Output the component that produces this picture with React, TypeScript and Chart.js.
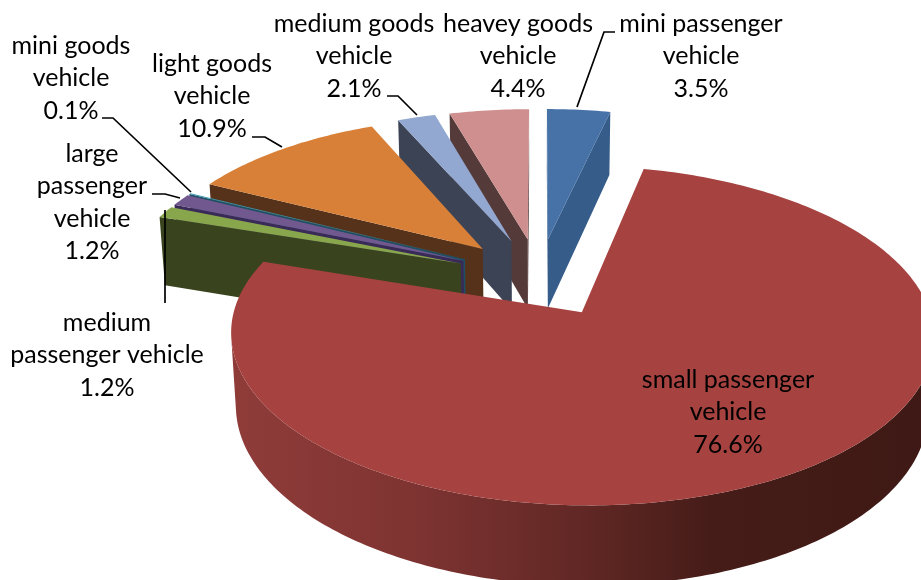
import React, { useEffect, useRef } from "react";
import { Chart, registerables } from "chart.js";

Chart.register(...registerables);

// Share of vehicles by class, clockwise from twelve o'clock.
const categories = [
  "mini passenger vehicle",
  "small passenger vehicle",
  "medium passenger vehicle",
  "large passenger vehicle",
  "mini goods vehicle",
  "light goods vehicle",
  "medium goods vehicle",
  "heavey goods vehicle",
];
const shares = [3.5, 76.6, 1.2, 1.2, 0.1, 10.9, 2.1, 4.4];

const topColors = ["#4672a8", "#a64340", "#88a64c", "#71588f", "#3c9ab4", "#d88038", "#92a8d0", "#cf8f8f"];
const wallColors = ["#365c8a", "#8a3835", "#39441e", "#3a2a58", "#1f4f63", "#56321a", "#3b4355", "#553a3a"];
const rimColors = ["#3a6193", "#8a3835", "#5f7a33", "#4d3b6a", "#28687c", "#8f5526", "#5f7193", "#8a5f5f"];

// Paint order: slices furthest from the viewer go first.
const paintOrder = [0, 7, 6, 5, 4, 3, 2, 1];

// Line breaks and anchor of each data label: [centre x, first line y].
const labelLines = [
  ["mini passenger", "vehicle"],
  ["small passenger", "vehicle"],
  ["medium", "passenger vehicle"],
  ["large", "passenger", "vehicle"],
  ["mini goods", "vehicle"],
  ["light goods", "vehicle"],
  ["medium goods", "vehicle"],
  ["heavey goods", "vehicle"],
];
const labelAnchors = [
  [701, 24],
  [728, 380],
  [107, 323],
  [92, 154],
  [71, 46],
  [212, 64],
  [354, 24],
  [518, 24],
];
const leaderLines = [
  [[615, 32], [604, 32], [577, 107]],
  [],
  [[165, 210], [165, 303]],
  [[152, 194], [165, 194], [180, 198]],
  [[102, 118], [113, 118], [191, 192]],
  [[252, 137], [265, 137], [282, 147]],
  [[387, 96], [398, 96], [417, 115]],
  [],
];

const LINE_HEIGHT = 32.3;
const LABEL_FONT = '25px Lato, "Open Sans", sans-serif';
const EXPLODE_OFFSET = 64.4;

// Camera used to tilt the flat pie: a homography on plane coordinates in radius units.
const CAM = { cx: 539, cy: 277, ax: 338, by: 157, persp: 0.134, depth: 72, sag: 0.015 };

type Pt = [number, number];

function project(x: number, y: number, z: number): Pt {
  const w = 1 - CAM.persp * y + CAM.sag * z;
  return [CAM.cx + (CAM.ax * x) / w, CAM.cy + (CAM.by * y + CAM.depth * z) / w];
}

function fillPoly(ctx: CanvasRenderingContext2D, pts: Pt[], fill: string | CanvasGradient) {
  ctx.beginPath();
  pts.forEach((p, i) => (i ? ctx.lineTo(p[0], p[1]) : ctx.moveTo(p[0], p[1])));
  ctx.closePath();
  ctx.fillStyle = fill;
  ctx.fill();
}

function cross(a: Pt, b: Pt, c: Pt) {
  return (b[0] - a[0]) * (c[1] - a[1]) - (b[1] - a[1]) * (c[0] - a[0]);
}

// A wall below edge a-b faces the viewer when its winding opposes the top face.
function wallFaces(a: [number, number], b: [number, number]) {
  const at = project(a[0], a[1], 0);
  const bt = project(b[0], b[1], 0);
  const bb = project(b[0], b[1], 1);
  return cross(at, bt, bb) < 0;
}

function drawSlice(ctx: CanvasRenderingContext2D, arc: any, index: number) {
  const { startAngle, endAngle, outerRadius } = arc.getProps(["startAngle", "endAngle", "outerRadius"], true);
  const mid = (startAngle + endAngle) / 2;
  const e = arc.options.offset / outerRadius;
  const ox = Math.cos(mid) * e;
  const oy = Math.sin(mid) * e;
  const steps = Math.max(4, Math.ceil((endAngle - startAngle) * 60));
  const rim: [number, number][] = [];
  for (let i = 0; i <= steps; i++) {
    const t = startAngle + ((endAngle - startAngle) * i) / steps;
    rim.push([ox + Math.cos(t), oy + Math.sin(t)]);
  }
  const apex: [number, number] = [ox, oy];

  // Curved outer wall, one polygon for each run of visible steps.
  let run: [number, number][] = [];
  const flush = () => {
    if (run.length > 1) {
      const pts: Pt[] = [
        ...run.map((p) => project(p[0], p[1], 0)),
        ...[...run].reverse().map((p) => project(p[0], p[1], 1)),
      ];
      let fill: string | CanvasGradient = rimColors[index];
      if (index === 1) {
        const g = ctx.createLinearGradient(235, 0, 921, 0);
        g.addColorStop(0, "#8f3c39");
        g.addColorStop(0.25, "#7f3432");
        g.addColorStop(0.5, "#622825");
        g.addColorStop(0.7, "#451c18");
        g.addColorStop(1, "#3f1915");
        fill = g;
      }
      fillPoly(ctx, pts, fill);
    }
    run = [];
  };
  for (let i = 0; i < rim.length - 1; i++) {
    if (wallFaces(rim[i], rim[i + 1])) {
      if (!run.length) run.push(rim[i]);
      run.push(rim[i + 1]);
    } else flush();
  }
  flush();

  // The two radial cut faces.
  const faces: [[number, number], [number, number]][] = [
    [apex, rim[0]],
    [rim[rim.length - 1], apex],
  ];
  for (const [a, b] of faces) {
    if (wallFaces(a, b)) {
      fillPoly(
        ctx,
        [project(a[0], a[1], 0), project(b[0], b[1], 0), project(b[0], b[1], 1), project(a[0], a[1], 1)],
        wallColors[index],
      );
    }
  }

  // Top face.
  fillPoly(ctx, [project(apex[0], apex[1], 0), ...rim.map((p) => project(p[0], p[1], 0))], topColors[index]);
}

const tiltedPie = {
  id: "tiltedPie",
  beforeDatasetDraw(chart: any) {
    const arcs = chart.getDatasetMeta(0).data;
    const ctx = chart.ctx;
    ctx.save();
    paintOrder.forEach((i) => drawSlice(ctx, arcs[i], i));
    ctx.restore();
    return false;
  },
  afterDraw(chart: any) {
    const ctx = chart.ctx as CanvasRenderingContext2D;
    ctx.save();
    ctx.strokeStyle = "#000000";
    ctx.lineWidth = 1.7;
    leaderLines.forEach((line) => {
      if (!line.length) return;
      ctx.beginPath();
      line.forEach((p, i) => (i ? ctx.lineTo(p[0], p[1]) : ctx.moveTo(p[0], p[1])));
      ctx.stroke();
    });
    ctx.fillStyle = "#000000";
    ctx.font = LABEL_FONT;
    ctx.textAlign = "center";
    ctx.textBaseline = "middle";
    categories.forEach((_, i) => {
      const lines = [...labelLines[i], `${shares[i].toFixed(1)}%`];
      lines.forEach((text, n) => {
        ctx.fillText(text, labelAnchors[i][0], labelAnchors[i][1] + n * LINE_HEIGHT);
      });
    });
    ctx.restore();
  },
};

export default function App() {
  const ref = useRef<HTMLCanvasElement>(null);

  useEffect(() => {
    const chart = new Chart(ref.current as HTMLCanvasElement, {
      type: "pie",
      data: {
        labels: categories,
        datasets: [{ data: shares, backgroundColor: topColors, borderWidth: 0, offset: EXPLODE_OFFSET }],
      },
      options: {
        responsive: false,
        animation: false,
        layout: { padding: 0 },
        plugins: { legend: { display: false }, tooltip: { enabled: false } },
      },
      plugins: [tiltedPie],
    } as any);
    return () => chart.destroy();
  }, []);

  return (
    <div style={{ position: "fixed", left: 0, top: 0, width: 921, height: 580, background: "#ffffff" }}>
      <canvas ref={ref} width={921} height={580} style={{ display: "block" }} />
    </div>
  );
}
